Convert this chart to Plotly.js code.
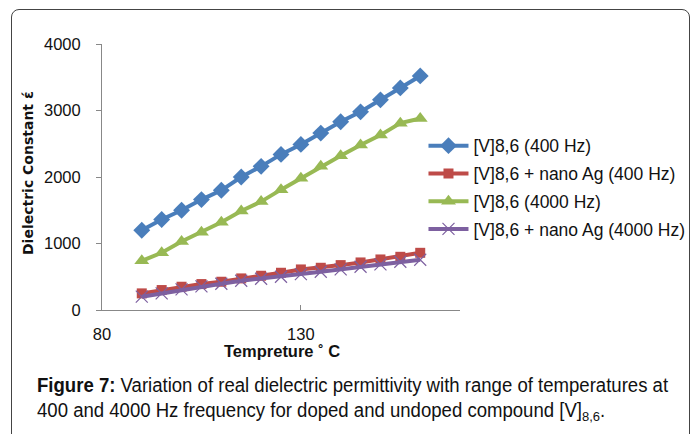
<!DOCTYPE html>
<html><head><meta charset="utf-8">
<script src="https://cdn.plot.ly/plotly-3.0.1.min.js"></script>
<style>
html,body{margin:0;padding:0;background:#fff;width:691px;height:434px;overflow:hidden}
#frame{position:absolute;left:11px;top:9px;width:679px;height:440px;border:1px solid #444;border-radius:8px;box-sizing:border-box}
#chart{position:absolute;left:0;top:0;width:691px;height:434px}
</style></head>
<body>
<div id="frame"></div>
<div id="chart"></div>
<script>
const temperature = [90,95,100,105,110,115,120,125,130,135,140,145,150,155,160];
const v86_400 = [1200,1360,1500,1660,1800,2000,2160,2340,2490,2660,2830,2980,3160,3340,3520];
const v86Ag_400 = [250,300,350,390,425,475,515,560,610,635,675,715,760,800,860];
const v86_4000 = [740,860,1030,1170,1320,1490,1630,1810,1980,2160,2320,2480,2630,2810,2880];
const v86Ag_4000 = [200,250,310,355,395,440,470,500,540,575,610,650,685,725,755];
const names = ["[V]8,6 (400 Hz)","[V]8,6 + nano Ag (400 Hz)","[V]8,6 (4000 Hz)","[V]8,6 + nano Ag (4000 Hz)"];
const colors = ["#4A7EBB","#BE4B48","#98B954","#7D60A0"];
const xTicks = [80,130];
const yTicks = [0,1000,2000,3000,4000];

const traces = [
 {x:temperature,y:v86_400,name:names[0],legendgroup:'a',mode:'lines+markers',line:{color:colors[0],width:4},marker:{symbol:'diamond',size:13,color:colors[0]}},
 {x:temperature,y:v86Ag_400,name:names[1],legendgroup:'b',mode:'lines+markers',line:{color:colors[1],width:4},marker:{symbol:'square',size:10,color:colors[1]}},
 {x:temperature,y:v86_4000,name:names[2],legendgroup:'c',mode:'lines+markers',line:{color:colors[2],width:4},marker:{symbol:'triangle-up',size:13,color:colors[2]}},
 {x:temperature,y:v86Ag_4000,name:names[3],legendgroup:'d',mode:'lines+markers',line:{color:colors[3],width:4},marker:{symbol:'x-thin-open',size:12,line:{width:1.2,color:colors[3]},color:colors[3]}}
];
const tickFont = {family:'Liberation Sans, Arial, sans-serif',size:16.5,color:'#111'};
const layout = {
 width:691,height:434,
 margin:{l:102,r:231,t:44,b:124,autoexpand:false},
 paper_bgcolor:'rgba(0,0,0,0)',plot_bgcolor:'rgba(0,0,0,0)',
 showlegend:true,
 legend:{x:0.898,xanchor:'left',y:0.685,yanchor:'top',traceorder:'grouped',tracegroupgap:2,font:{family:'Liberation Sans, sans-serif',size:17.5,color:'#111'},itemwidth:40,bgcolor:'rgba(0,0,0,0)'},
 xaxis:{range:[80,170],tickvals:xTicks,showgrid:false,zeroline:false,showline:true,linecolor:'#888',linewidth:1,ticks:'inside',ticklen:5,tickcolor:'#888',tickfont:tickFont,ticklabelstandoff:9},
 yaxis:{range:[0,4000],tickvals:yTicks,showgrid:false,zeroline:false,showline:true,linecolor:'#888',linewidth:1,ticks:'outside',ticklen:5,tickcolor:'#888',tickfont:tickFont,ticklabelstandoff:12},
 annotations:[
  {xref:'paper',yref:'paper',x:-0.2067,y:0.515,xanchor:'center',yanchor:'middle',textangle:-90,showarrow:false,text:'<b>Dielectric Constant έ</b>',font:{family:'DejaVu Sans, sans-serif',size:14,color:'#111'}},
  {xref:'paper',yref:'paper',x:0.503,y:-0.154,xanchor:'center',yanchor:'middle',showarrow:false,text:'<b>Tempreture ˚ C</b>',font:{family:'Liberation Sans, sans-serif',size:16.5,color:'#111'}},
  {xref:'paper',yref:'paper',x:-0.187,y:-0.282,xanchor:'left',yanchor:'middle',showarrow:false,align:'left',text:'<b>Figure 7:</b> Variation of real dielectric permittivity with range of temperatures at',font:{family:'Liberation Sans, sans-serif',size:19.5,color:'#111'}},
  {xref:'paper',yref:'paper',x:-0.187,y:-0.380,xanchor:'left',yanchor:'middle',showarrow:false,align:'left',text:'400 and 4000 Hz frequency for doped and undoped compound [V]<sub>8,6</sub>.',font:{family:'Liberation Sans, sans-serif',size:19.5,color:'#111'}}
 ]
};
Plotly.newPlot('chart',traces,layout,{staticPlot:true,displayModeBar:false}).then(function(gd){
  // condense caption lines horizontally (the reference uses a narrow typeface)
  const anns = gd.querySelectorAll('.annotation');
  const texts = [anns[2], anns[3]].map(a => a.querySelector('text.annotation-text'));
  const w1 = texts[0].getBBox().width;
  const s = 632 / w1;
  texts.forEach(t => {
    const bb = t.getBBox();
    const x0 = bb.x;
    const prev = t.getAttribute('transform') || '';
    t.setAttribute('transform', prev + ' translate(' + (x0 * (1 - s)) + ',0) scale(' + s + ',1)');
  });
});
</script>
</body></html>
